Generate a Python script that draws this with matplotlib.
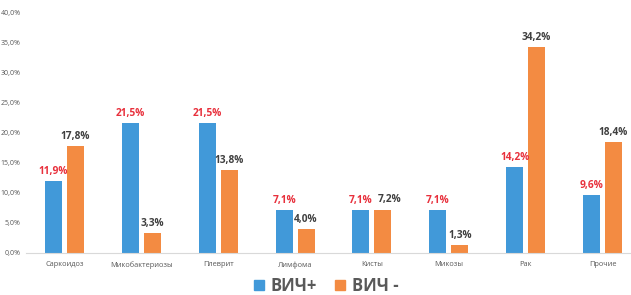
import numpy as np
import matplotlib.pyplot as plt
from matplotlib.patches import Patch

categories = ['Саркоидоз', 'Микобактериозы', 'Плеврит', 'Лимфома',
              'Кисты', 'Микозы', 'Рак', 'Прочие']
hiv_pos = [11.9, 21.5, 21.5, 7.1, 7.1, 7.1, 14.2, 9.6]
hiv_neg = [17.8, 3.3, 13.8, 4.0, 7.2, 1.3, 34.2, 18.4]
yticks = [0, 5, 10, 15, 20, 25, 30, 35, 40]

blue = '#4199D9'
orange = '#F38B42'
plt.rcParams['font.family'] = ['Open Sans', 'DejaVu Sans']

fig = plt.figure(figsize=(6.31, 2.95), dpi=100)
ax = fig.add_axes([26 / 631, 1 - 253 / 295, 615 / 631, 241 / 295])

x = np.arange(len(categories))
w = 0.22
off = 0.143
ax.bar(x - off, hiv_pos, w, color=blue)
ax.bar(x + off, hiv_neg, w, color=orange)

def fmt(v):
    return f'{v:.1f}%'.replace('.', ',')

for xi, v in zip(x, hiv_pos):
    ax.text(xi - off, v + 0.7, fmt(v), ha='center', va='bottom',
            fontsize=7.3, fontweight='bold', color='#E8303C')
for i, (xi, v) in enumerate(zip(x, hiv_neg)):
    # the Кисты label sits a bit to the right so it clears its neighbour
    shift = 0.09 if categories[i] == 'Кисты' else 0
    ax.text(xi + off + shift, v + 0.7, fmt(v), ha='center', va='bottom',
            fontsize=7.3, fontweight='bold', color='#404040')

ax.set_xlim(-0.5, len(categories) - 0.5)
ax.set_ylim(0, 40)
ax.set_yticks(yticks)
ax.set_yticklabels([fmt(t) for t in yticks], fontsize=5, color='#595959')
ax.set_xticks(x)
ax.set_xticklabels(categories, fontsize=5.3, color='#595959')
ax.tick_params(length=0, pad=6)
ax.tick_params(axis='y', pad=4)
for s in ['top', 'right', 'left']:
    ax.spines[s].set_visible(False)
ax.spines['bottom'].set_color('#D9D9D9')
ax.spines['bottom'].set_linewidth(0.8)

handles = [Patch(color=blue, label='ВИЧ+'), Patch(color=orange, label='ВИЧ -')]
fig.legend(handles=handles, loc='center', bbox_to_anchor=(326 / 631, 1 - 286 / 295),
           ncol=2, frameon=False, handlelength=0.6, handleheight=0.6,
           handletextpad=0.4, columnspacing=1.1, labelcolor='#595959',
           prop={'weight': 'bold', 'size': 12})

fig.savefig('out.png', dpi=100)
